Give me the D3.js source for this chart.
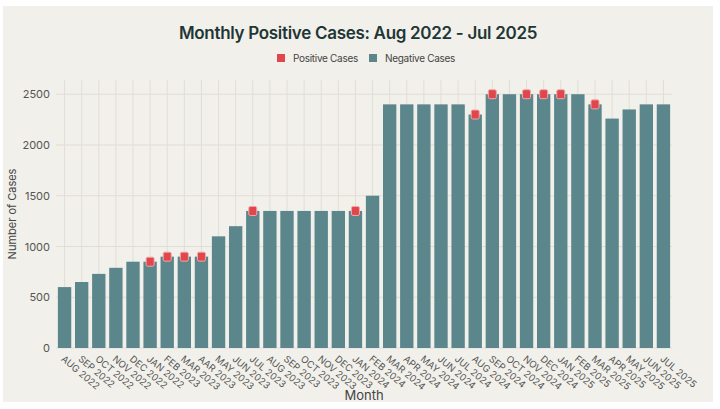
<!DOCTYPE html>
<html>
<head>
<meta charset="utf-8">
<script src="https://cdn.jsdelivr.net/npm/d3@7"></script>
<style>
    body { margin: 0; background: #ffffff; }
    svg { display: block; font-family: Inter, 'Noto Sans', sans-serif; }
</style>
</head>
<body>
<div id="chart"></div>
<script>

//
// DATA
//

const months = [
    'AUG 2022','SEP 2022','OCT 2022','NOV 2022','DEC 2022','JAN 2022',
    'FEB 2023','MAR 2023','AAR 2023','MAY 2023','JUN 2023','JUL 2023',
    'AUG 2023','SEP 2023','OCT 2023','NOV 2023','DEC 2023','JAN 2024',
    'FEB 2024','MAR 2024','APR 2024','MAY 2024','JUN 2024','JUL 2024',
    'AUG 2024','SEP 2024','OCT 2024','NOV 2024','DEC 2024','JAN 2025',
    'FEB 2025','MAR 2025','APR 2025','MAY 2025','JUN 2025','JUL 2025'
];
const negative = [
    600, 650, 730, 790, 850, 850,
    900, 900, 900, 1100, 1200, 1350,
    1350, 1350, 1350, 1350, 1350, 1350,
    1500, 2400, 2400, 2400, 2400, 2400,
    2300, 2500, 2500, 2500, 2500, 2500,
    2500, 2400, 2260, 2350, 2400, 2400
];
const positive = [
    null, null, null, null, null, 850,
    900, 900, 900, null, null, 1350,
    null, null, null, null, null, 1350,
    null, null, null, null, null, null,
    2300, 2500, null, 2500, 2500, 2500,
    null, 2400, null, null, null, null
];
const yTicks = [0, 500, 1000, 1500, 2000, 2500];

//
// CHART
//

const width = 720;
const height = 409;
const margin = {top: 80, right: 48, bottom: 61, left: 56};
const barColor = '#5b868c';
const posColor = '#e0464c';
const gridColor = '#e1ded5';

const svg = d3.select('#chart')
    .append('svg')
        .attr('width', width)
        .attr('height', height);

// panel background
svg.append('rect')
    .attr('x', 3)
    .attr('y', 6)
    .attr('width', 710)
    .attr('height', 396)
    .attr('fill', '#f1f0ea');

// scales
const x = d3.scaleBand()
    .domain(months)
    .range([margin.left, width - margin.right])
    .paddingInner(0.22)
    .paddingOuter(0.11);
const y = d3.scaleLinear()
    .domain([0, 2640])
    .range([height - margin.bottom, margin.top]);

// grid
svg.append('g')
    .selectAll('line')
    .data(yTicks)
    .join('line')
        .attr('x1', margin.left)
        .attr('x2', width - margin.right)
        .attr('y1', d => y(d))
        .attr('y2', d => y(d))
        .attr('stroke', gridColor);
svg.append('g')
    .selectAll('line')
    .data(months)
    .join('line')
        .attr('x1', d => x(d) + x.bandwidth() / 2)
        .attr('x2', d => x(d) + x.bandwidth() / 2)
        .attr('y1', margin.top)
        .attr('y2', y(0))
        .attr('stroke', gridColor);

// bars
svg.append('g')
    .selectAll('rect')
    .data(negative)
    .join('rect')
        .attr('x', (d, i) => x(months[i]))
        .attr('y', d => y(d))
        .attr('width', x.bandwidth())
        .attr('height', d => y(0) - y(d))
        .attr('fill', barColor);

// positive markers
svg.append('g')
    .selectAll('rect')
    .data(positive.map((v, i) => ({m: months[i], v: v})).filter(d => d.v != null))
    .join('rect')
        .attr('x', d => x(d.m) + x.bandwidth() / 2 - 4)
        .attr('y', d => y(d.v) - 4.5)
        .attr('width', 8)
        .attr('height', 9)
        .attr('rx', 1.5)
        .attr('fill', posColor)
        .attr('stroke', '#f2a9a9')
        .attr('stroke-width', 1);

// y axis
const yAxis = d3.axisLeft(y)
    .tickValues(yTicks)
    .tickFormat(d3.format('d'))
    .tickSize(0)
    .tickPadding(5);
svg.append('g')
    .attr('transform', `translate(${margin.left - 1},0)`)
    .call(yAxis)
    .call(g => g.select('.domain').remove())
    .selectAll('text')
        .attr('font-family', 'Inter, sans-serif')
        .attr('font-size', 11)
        .attr('fill', '#555');

// x axis labels
const xAxis = d3.axisBottom(x).tickSize(0).tickPadding(0);
svg.append('g')
    .attr('transform', `translate(0,${y(0)})`)
    .call(xAxis)
    .call(g => g.select('.domain').remove())
    .selectAll('text')
        .attr('font-family', 'Inter, sans-serif')
        .attr('font-size', 9.5)
        .attr('fill', '#555')
        .attr('text-anchor', 'start')
        .attr('dy', 0)
        .attr('y', 0)
        .attr('transform', 'translate(-4,12) rotate(40)');

// axis titles
svg.append('text')
    .attr('x', (margin.left + width - margin.right) / 2)
    .attr('y', 400)
    .attr('text-anchor', 'middle')
    .attr('font-size', 13)
    .attr('fill', '#444')
    .text('Month');
svg.append('text')
    .attr('transform', `translate(16,${(margin.top + y(0)) / 2}) rotate(-90)`)
    .attr('text-anchor', 'middle')
    .attr('font-size', 11)
    .attr('fill', '#444')
    .text('Number of Cases');

// title
svg.append('text')
    .attr('x', 358)
    .attr('y', 39)
    .attr('text-anchor', 'middle')
    .attr('font-size', 17)
    .attr('font-weight', 600)
    .attr('letter-spacing', -0.3)
    .attr('fill', '#1f3636')
    .text('Monthly Positive Cases: Aug 2022 - Jul 2025');

// legend
const legend = [
    {name: 'Positive Cases', color: posColor, x: 277},
    {name: 'Negative Cases', color: barColor, x: 369}
];
const lg = svg.append('g')
    .selectAll('g')
    .data(legend)
    .join('g')
        .attr('transform', d => `translate(${d.x},54)`);
lg.append('rect')
    .attr('width', 8)
    .attr('height', 8)
    .attr('fill', d => d.color);
lg.append('text')
    .attr('x', 16)
    .attr('y', 8)
    .attr('font-size', 10)
    .attr('letter-spacing', -0.3)
    .attr('fill', '#444')
    .text(d => d.name);

</script>
</body>
</html>
